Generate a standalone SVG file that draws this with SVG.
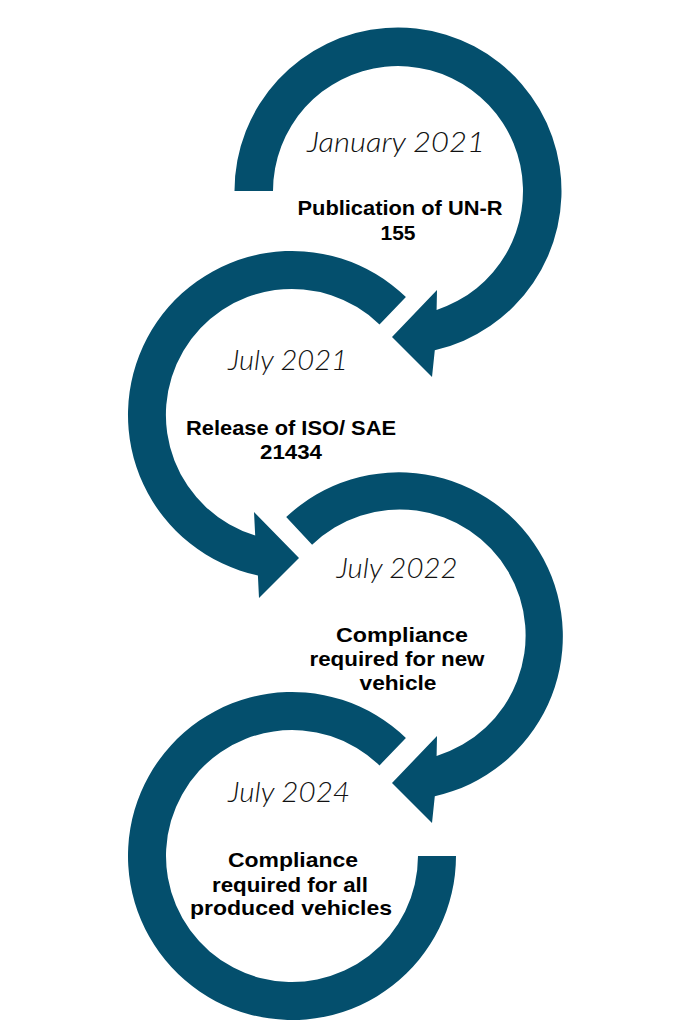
<svg xmlns="http://www.w3.org/2000/svg" width="690" height="1024" viewBox="0 0 690 1024">
<style>
.arc{fill:#044F6D}
.date{font-family:"Lato","Open Sans","Liberation Sans",sans-serif;font-style:italic;font-weight:300;font-size:27px;fill:#111;text-anchor:middle}
.desc{font-family:"Liberation Sans","DejaVu Sans",sans-serif;font-weight:bold;font-size:20.5px;fill:#000;text-anchor:middle}
</style>
<rect width="690" height="1024" fill="#fff"/>
<g id="connectors">
<path class="arc" d="M234.5 191 A163.5 163.5 0 1 1 434.8 350.3 L432 377 L392 337 L437 290 L436.6 309.9 A125 125 0 1 0 273 191 Z"/>
<path class="arc" d="M405.9 297 A164 164 0 1 0 257.9 575.4 L259 598 L299 558 L254 512 L255.2 535.5 A126 126 0 1 1 379.5 324.4 Z"/>
<path class="arc" d="M286.2 517.1 A164 164 0 1 1 434.8 796.3 L432 823 L392 783 L437 736 L436.6 755.9 A126 126 0 1 0 312.1 544.8 Z"/>
<path class="arc" d="M405.9 738 A164 164 0 1 0 456 856 L418 856 A126 126 0 1 1 379.5 765.4 Z"/>
</g>
<g id="node1">
<text class="date" x="396" y="152" textLength="178" lengthAdjust="spacingAndGlyphs">January 2021</text>
<text class="desc" x="400" y="215" textLength="205" lengthAdjust="spacingAndGlyphs">Publication of UN-R</text>
<text class="desc" x="398" y="240" textLength="35" lengthAdjust="spacingAndGlyphs">155</text>
</g>
<g id="node2">
<text class="date" x="288" y="370" textLength="120" lengthAdjust="spacingAndGlyphs">July 2021</text>
<text class="desc" x="291" y="435" textLength="210" lengthAdjust="spacingAndGlyphs">Release of ISO/ SAE</text>
<text class="desc" x="291" y="459" textLength="62" lengthAdjust="spacingAndGlyphs">21434</text>
</g>
<g id="node3">
<text class="date" x="397" y="578" textLength="121" lengthAdjust="spacingAndGlyphs">July 2022</text>
<text class="desc" x="402" y="642" textLength="132" lengthAdjust="spacingAndGlyphs">Compliance</text>
<text class="desc" x="397" y="666" textLength="175" lengthAdjust="spacingAndGlyphs">required for new</text>
<text class="desc" x="398" y="690" textLength="77" lengthAdjust="spacingAndGlyphs">vehicle</text>
</g>
<g id="node4">
<text class="date" x="289" y="802" textLength="122" lengthAdjust="spacingAndGlyphs">July 2024</text>
<text class="desc" x="293" y="867" textLength="130" lengthAdjust="spacingAndGlyphs">Compliance</text>
<text class="desc" x="290" y="892" textLength="156" lengthAdjust="spacingAndGlyphs">required for all</text>
<text class="desc" x="291" y="915" textLength="202" lengthAdjust="spacingAndGlyphs">produced vehicles</text>
</g>
</svg>
